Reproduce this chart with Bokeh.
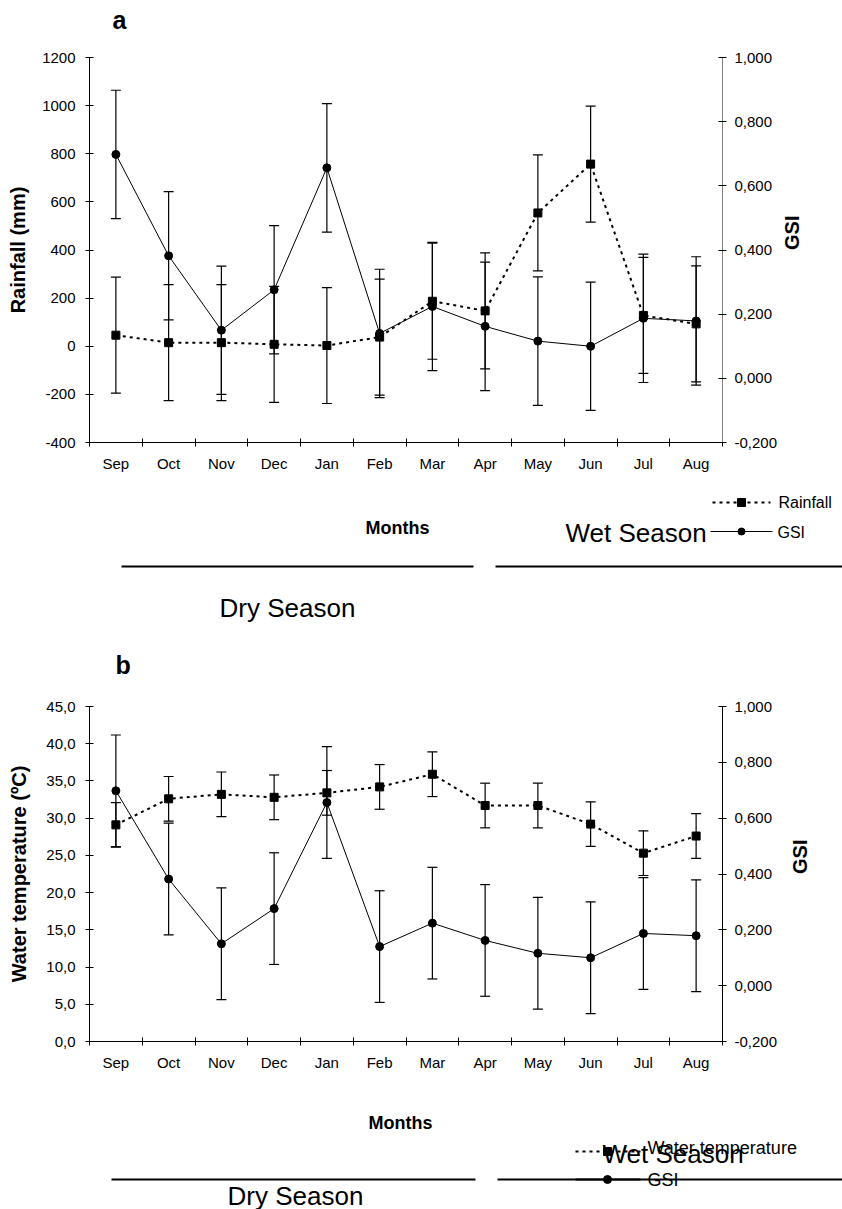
import numpy as np
from bokeh.plotting import figure
from bokeh.models import (Range1d, LinearAxis, FixedTicker, CustomJSTickFormatter,
                          Whisker, TeeHead, ColumnDataSource)
from bokeh.layouts import column
from bokeh.embed import file_html
from bokeh.resources import INLINE
from bokeh.core.properties import value

# ---------------- data ----------------
months = ["Sep", "Oct", "Nov", "Dec", "Jan", "Feb", "Mar", "Apr", "May", "Jun", "Jul", "Aug"]
rainfall = [46, 15, 15, 8, 3, 38, 187, 147, 554, 757, 128, 93]
rainfall_err = [241, 241, 241, 241, 241, 241, 241, 241, 241, 241, 241, 241]
gsi = [0.698, 0.382, 0.150, 0.276, 0.656, 0.140, 0.224, 0.162, 0.116, 0.100, 0.187, 0.179]
gsi_err = [0.200, 0.200, 0.200, 0.200, 0.200, 0.200, 0.200, 0.200, 0.200, 0.200, 0.200, 0.200]
water_temp = [29.1, 32.6, 33.2, 32.8, 33.4, 34.2, 35.9, 31.7, 31.7, 29.2, 25.3, 27.6]
water_temp_err = [3.0, 3.0, 3.0, 3.0, 3.0, 3.0, 3.0, 3.0, 3.0, 3.0, 3.0, 3.0]

rain_ticks = [-400, -200, 0, 200, 400, 600, 800, 1000, 1200]
temp_ticks = [0, 5, 10, 15, 20, 25, 30, 35, 40, 45]
gsi_ticks = [-0.2, 0.0, 0.2, 0.4, 0.6, 0.8, 1.0]

FONT = "Liberation Sans"
W = 842

centers = list(np.arange(len(months)) + 0.5)
bounds = list(np.arange(len(months) + 1))


def fmt(decimals):
    return CustomJSTickFormatter(
        args=dict(d=decimals),
        code="return tick.toFixed(d).replace('.', ',');")


def style_axis(ax):
    ax.major_label_text_font = FONT
    ax.major_label_text_font_size = "15px"
    ax.major_label_text_color = "black"
    ax.axis_label_text_font = FONT
    ax.axis_label_text_font_size = "20px"
    ax.axis_label_text_font_style = "bold"
    ax.axis_label_text_color = "black"
    ax.axis_line_color = "black"
    ax.major_tick_line_color = "black"
    ax.minor_tick_line_color = "black"


def make_panel(height, top, bottom, main, main_err, main_ticks, main_range,
               main_dec, main_title, main_standoff, right_color, right_standoff):
    p = figure(width=W, height=height, x_range=Range1d(0, len(months)),
               y_range=Range1d(*main_range), output_backend="svg",
               toolbar_location=None, x_axis_type=None, y_axis_type=None,
               min_border_left=89, min_border_right=W - 722,
               min_border_top=top, min_border_bottom=bottom, title=None)
    p.frame_align = False
    p.outline_line_color = None
    p.background_fill_color = "white"
    p.extra_y_ranges = {"gsi": Range1d(gsi_ticks[0], gsi_ticks[-1])}

    xa = LinearAxis(ticker=FixedTicker(ticks=centers, minor_ticks=bounds),
                    formatter=CustomJSTickFormatter(
                        args=dict(months=months),
                        code="var i = Math.floor(tick); return months[i] || '';"))
    style_axis(xa)
    xa.major_tick_in = 0
    xa.major_tick_out = 0
    xa.minor_tick_in = 4
    xa.minor_tick_out = 4
    xa.major_label_standoff = 8
    p.add_layout(xa, "below")

    ya = LinearAxis(ticker=FixedTicker(ticks=main_ticks), formatter=fmt(main_dec),
                    axis_label=main_title)
    style_axis(ya)
    ya.major_tick_in = 4
    ya.major_tick_out = 4
    ya.major_label_standoff = 10
    ya.axis_label_standoff = main_standoff
    p.add_layout(ya, "left")

    ra = LinearAxis(y_range_name="gsi", ticker=FixedTicker(ticks=gsi_ticks),
                    formatter=fmt(3), axis_label="GSI")
    style_axis(ra)
    ra.axis_line_color = right_color
    ra.major_tick_in = 4
    ra.major_tick_out = 4
    ra.major_label_standoff = 8
    ra.axis_label_standoff = right_standoff
    ra.axis_label_orientation = np.pi / 2
    p.add_layout(ra, "right")

    src = ColumnDataSource(dict(
        x=centers,
        m=main,
        m_lo=[v - e for v, e in zip(main, main_err)],
        m_hi=[v + e for v, e in zip(main, main_err)],
        g=gsi,
        g_lo=[v - e for v, e in zip(gsi, gsi_err)],
        g_hi=[v + e for v, e in zip(gsi, gsi_err)],
    ))

    for lo, hi, rn in (("m_lo", "m_hi", "default"), ("g_lo", "g_hi", "gsi")):
        wk = Whisker(source=src, base="x", lower=lo, upper=hi, y_range_name=rn,
                     line_color="black", line_width=1.2,
                     upper_head=TeeHead(size=10, line_color="black", line_width=1.2),
                     lower_head=TeeHead(size=10, line_color="black", line_width=1.2))
        p.add_layout(wk)

    p.line("x", "m", source=src, line_color="black", line_width=2, line_dash="3 4")
    p.scatter("x", "m", source=src, marker="square", size=8,
              fill_color="black", line_color="black")
    p.line("x", "g", source=src, y_range_name="gsi", line_color="black", line_width=1)
    p.scatter("x", "g", source=src, y_range_name="gsi", marker="circle", size=8,
              fill_color="black", line_color="black")
    return p


def ann_fig(y0, y1):
    q = figure(width=W, height=y1 - y0, x_range=Range1d(0, W), y_range=Range1d(y1, y0),
               output_backend="svg", toolbar_location=None, x_axis_type=None,
               y_axis_type=None, min_border=0, title=None)
    q.frame_align = False
    q.outline_line_color = None
    return q


def txt(q, x, y, s, size, align="left", style="normal"):
    q.text(x=[x], y=[y], text=[s], text_font=value(FONT), text_font_size=size,
           text_font_style=style, text_align=align, text_baseline="middle",
           text_color="black")


# ---------------- header with panel letter a ----------------
ha = ann_fig(0, 40)
txt(ha, 112, 19, "a", "25px", "left", "bold")

# ---------------- panel a ----------------
pa = make_panel(440, 17, 38, rainfall, rainfall_err, rain_ticks,
                (rain_ticks[0], rain_ticks[-1]), 0, "Rainfall (mm)", 10,
                "#808080", 12)

aa = ann_fig(480, 690)
txt(aa, 397, 527, "Months", "18px", "center", "bold")
aa.line([712, 770], [502, 502], line_color="black", line_width=2, line_dash="3 4")
aa.scatter([741], [502], marker="square", size=8, color="black")
txt(aa, 778, 502, "Rainfall", "16px")
aa.line([710, 772], [531, 531], line_color="black", line_width=1)
aa.scatter([741], [531], marker="circle", size=7, color="black")
txt(aa, 777, 532, "GSI", "16px")
txt(aa, 565, 532, "Wet Season", "26px")
aa.line([121, 473], [566, 566], line_color="black", line_width=2)
aa.line([495, 842], [566, 566], line_color="black", line_width=2)
txt(aa, 287, 607, "Dry Season", "26px", "center")
txt(aa, 115, 664, "b", "25px", "left", "bold")

# ---------------- panel b ----------------
pb = make_panel(395, 16, 44, water_temp, water_temp_err, temp_ticks,
                (temp_ticks[0], temp_ticks[-1]), 1, "Water temperature (ºC)", 13,
                "black", 20)

ab = ann_fig(1085, 1209)
txt(ab, 400, 1122, "Months", "18px", "center", "bold")
ab.line([575, 640], [1151, 1151], line_color="black", line_width=2, line_dash="3 4")
ab.scatter([607], [1151], marker="square", size=8, color="black")
txt(ab, 647, 1147, "Water temperature", "18px")
ab.line([111, 475], [1179, 1179], line_color="black", line_width=2)
ab.line([497, 842], [1179, 1179], line_color="black", line_width=2)
ab.line([575, 640], [1179, 1179], line_color="black", line_width=2)
ab.scatter([607], [1179], marker="circle", size=8, color="black")
txt(ab, 647, 1179, "GSI", "18px")
txt(ab, 602, 1153, "Wet Season", "26px")
txt(ab, 295, 1195, "Dry Season", "26px", "center")

layout = column(ha, pa, aa, pb, ab, spacing=0)
open("out.html", "w").write(file_html(layout, INLINE))
